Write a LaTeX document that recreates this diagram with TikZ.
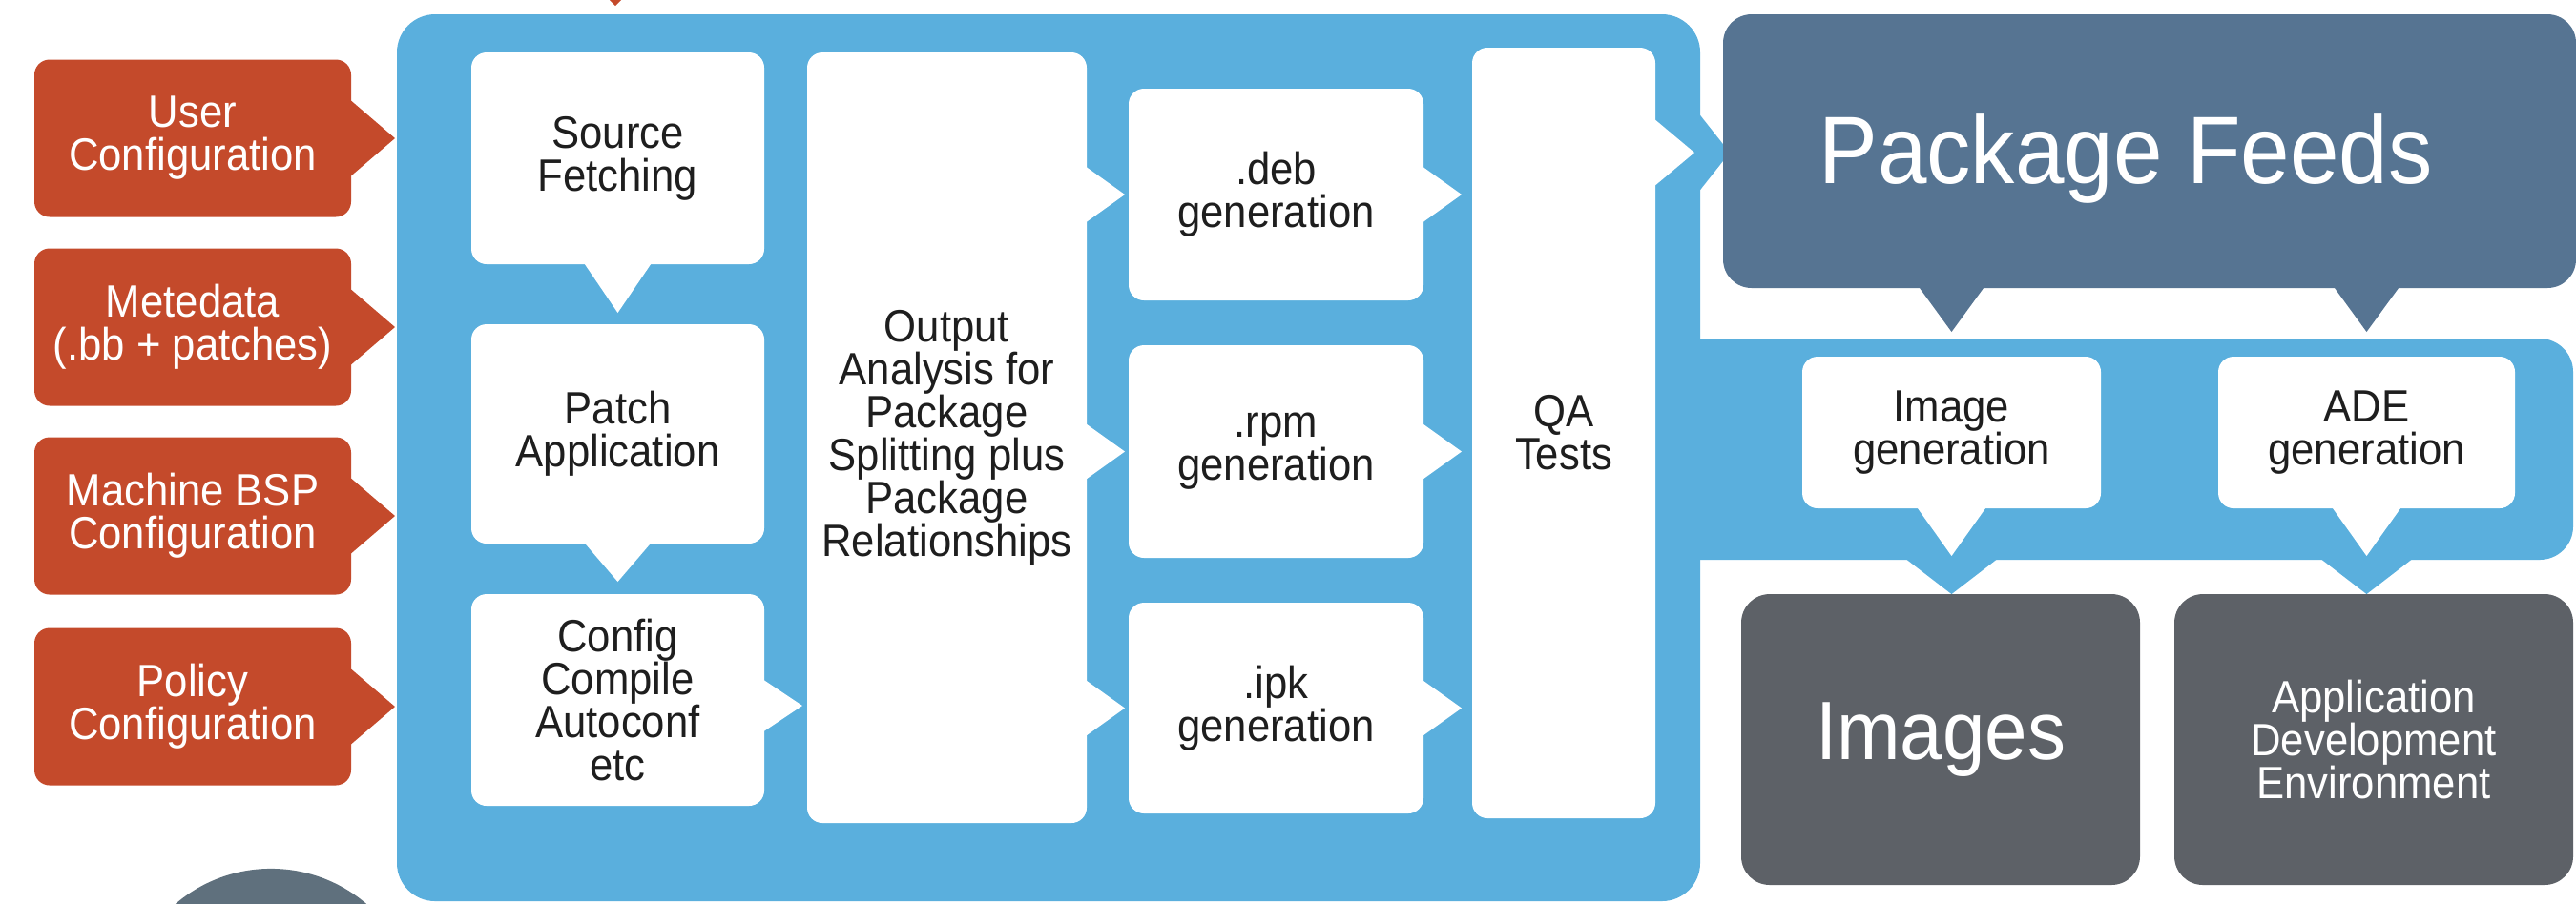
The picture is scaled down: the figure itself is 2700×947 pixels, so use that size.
\documentclass[tikz,border=0pt]{standalone}
\usepackage{fontspec}
\setmainfont{Liberation Sans}[FakeStretch=0.92]
\usetikzlibrary{calc}
\definecolor{redc}{RGB}{196,74,43}
\definecolor{bluec}{RGB}{90,175,221}
\definecolor{pfc}{RGB}{86,116,146}
\definecolor{grayc}{RGB}{93,97,103}
\definecolor{circc}{RGB}{95,112,125}
\definecolor{txtc}{RGB}{30,30,30}
\newcommand\txtfont{\fontsize{13.5}{12.8}\selectfont\lineskiplimit=-50pt\relax}
\newcommand\pffont{\fontsize{28.6}{28.6}\selectfont}
\newcommand\imgfont{\fontsize{24.7}{24.7}\selectfont}
\begin{document}
\begin{tikzpicture}[x=0.01cm,y=-0.01cm,
  box/.style={inner sep=0pt,outer sep=0pt,align=center,rounded corners=0.16cm},
  sz/.style 2 args={minimum width=#1*0.01cm,minimum height=#2*0.01cm},
  wbox/.style={box,fill=white,text=txtc,font=\txtfont},
  rbox/.style={box,fill=redc,text=white,font=\txtfont,sz={332}{165}},
  dbox/.style={box,rounded corners=0.3cm,text=white}]
\useasboundingbox (0,0) rectangle (2700,947);
\clip (0,0) rectangle (2700,947);
% small red mark at the top
\fill[redc] (639,0) -- (651,0) -- (645,6) -- cycle;
% bottom-left circle
\fill[circc] (284,1065) circle[radius=1.54cm];
% red inputs
\node[rbox] (r1) at (202,145) {User\\Configuration};
\node[rbox] (r2) at (202,343) {Metedata\\(.bb + patches)};
\node[rbox] (r3) at (202,541) {Machine BSP\\Configuration};
\node[rbox] (r4) at (202,741) {Policy\\Configuration};
\foreach \n in {r1,r2,r3,r4}
  \fill[redc] ($(\n.east)+(-3,-42)$) -- ($(\n.east)+(46,0)$) -- ($(\n.east)+(-3,42)$) -- cycle;
% blue frame and band
\node[box, fill=bluec, rounded corners=0.4cm, sz={1366}{930}] (frame) at (1099,480) {};
\node[box, fill=bluec, rounded corners=0.35cm, sz={997}{232}] (band) at (2198.5,471) {};
% white boxes
\node[wbox, sz={307}{222}] (src) at (647.5,166) {Source\\Fetching};
\node[wbox, sz={307}{230}] (pat) at (647.5,455) {Patch\\Application};
\node[wbox, sz={307}{222}] (cfg) at (647.5,734) {Config\\Compile\\Autoconf\\etc};
\node[wbox, sz={293}{808}] (out) at (992.5,459) {Output\\Analysis for\\Package\\Splitting plus\\Package\\Relationships};
\node[wbox, sz={309}{222}] (deb) at (1337.5,204) {.deb\\generation};
\node[wbox, sz={309}{223}] (rpm) at (1337.5,473.5) {.rpm\\generation};
\node[wbox, sz={309}{221}] (ipk) at (1337.5,742.5) {.ipk\\generation};
\node[wbox, sz={192}{808}] (qa) at (1639,454) {QA\\Tests};
\node[wbox, sz={313}{159}] (igen) at (2045.5,453.5) {Image\\generation};
\node[wbox, sz={311}{159}] (agen) at (2480.5,453.5) {ADE\\generation};
% frame pointer to package feeds
\coordinate (qaout) at (1735,160);
\fill[bluec] ($(qaout)+(40,-48)$) -- ($(qaout)+(78,0)$) -- ($(qaout)+(40,48)$) -- cycle;
% package feeds
\node[dbox, fill=pfc, sz={894}{287}] (pf) at (2253,158.5) {};
\node[font=\pffont, text=white, inner sep=0pt] (pft) at (2228,166) {Package Feeds};
\foreach \t in {igen,agen}
  \fill[pfc] ($(\t.north |- pf.south)+(-35,-2)$) -- ($(\t.north |- pf.south)+(0,46)$) -- ($(\t.north |- pf.south)+(35,-2)$) -- cycle;
% band pointers
\foreach \t in {igen,agen}{
  \fill[bluec] ($(\t.south)+(-52,50)$) -- ($(\t.south)+(0,90)$) -- ($(\t.south)+(52,50)$) -- cycle;
  \fill[white] ($(\t.south)+(-37,-2)$) -- ($(\t.south)+(0,50)$) -- ($(\t.south)+(37,-2)$) -- cycle;
}
% white pointers
\fill[white] ($(src.south)+(-36,-2)$) -- ($(src.south)+(0,51)$) -- ($(src.south)+(36,-2)$) -- cycle;
\fill[white] ($(pat.south)+(-36,-2)$) -- ($(pat.south)+(0,40)$) -- ($(pat.south)+(36,-2)$) -- cycle;
\fill[white] ($(cfg.east)+(-2,-22)$) -- ($(cfg.east)+(40,6)$) -- ($(cfg.east)+(-2,34)$) -- cycle;
\foreach \t in {deb,rpm,ipk}{
  \fill[white] ($(out.east |- \t.west)+(-2,-30)$) -- ($(out.east |- \t.west)+(40,0)$) -- ($(out.east |- \t.west)+(-2,30)$) -- cycle;
  \fill[white] ($(\t.east)+(-2,-30)$) -- ($(\t.east)+(40,0)$) -- ($(\t.east)+(-2,30)$) -- cycle;
}
\fill[white] ($(qaout)+(-2,-36)$) -- ($(qaout)+(41,0)$) -- ($(qaout)+(-2,36)$) -- cycle;
% outputs
\node[dbox, fill=grayc, font=\imgfont, sz={418}{305}] (imgs) at (2034,775.5) {Images};
\node[dbox, fill=grayc, font=\txtfont, sz={418}{305}] (adeenv) at (2488,775.5) {Application\\Development\\Environment};
\end{tikzpicture}
\end{document}
